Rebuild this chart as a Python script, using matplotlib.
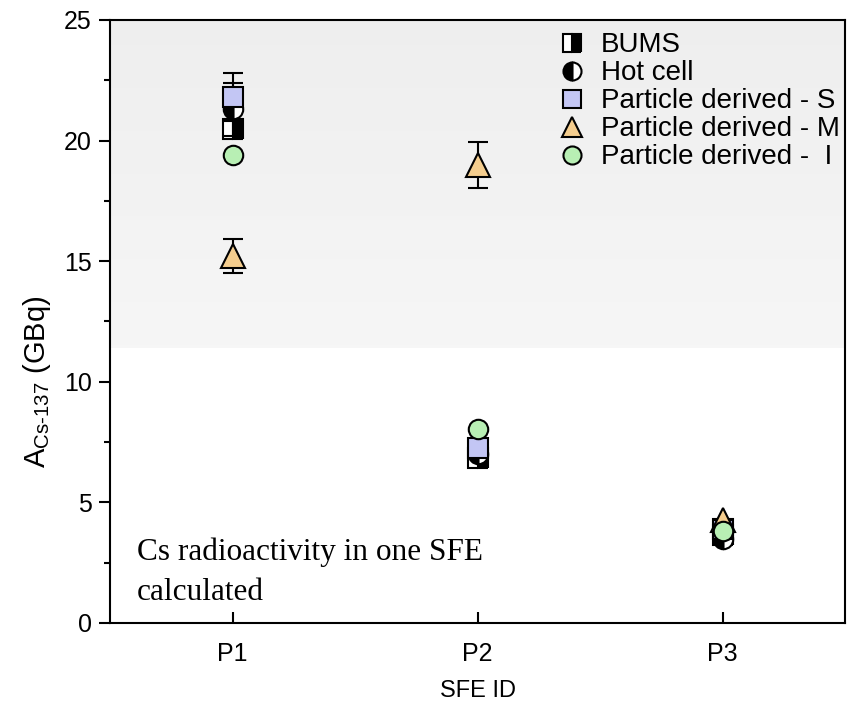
import numpy as np
import matplotlib
matplotlib.use("Agg")
import matplotlib.pyplot as plt
from matplotlib.lines import Line2D

plt.rcParams['font.family'] = ['Liberation Sans', 'DejaVu Sans']
plt.rcParams['mathtext.default'] = 'regular'

sfe_ids = ["P1", "P2", "P3"]
bums = [20.5, 6.85, 3.65]
hot_cell = [21.3, 7.0, 3.5]
hot_cell_err = [1.1, 0.0, 0.0]
part_s = [21.8, 7.25, 3.9]
part_s_err = [1.0, 0.0, 0.0]
part_m = [15.2, 19.0, 4.25]
part_m_err = [0.7, 0.95, 0.0]
part_i = [19.4, 8.05, 3.8]

fig = plt.figure(figsize=(8.54, 7.09), dpi=100)
ax = fig.add_axes([0.1288, 0.1213, 0.8607, 0.8505])

x = np.arange(1, len(sfe_ids) + 1)

# background gradient (light gray at top fading to white)
grad = np.linspace(0.965, 0.935, 100).reshape(-1, 1)
ax.imshow(np.dstack([grad, grad, grad]), extent=[0.5, 3.5, 11.4, 25],
          origin='lower', aspect='auto', zorder=0)

ms = 14
ekw = dict(ecolor='black', elinewidth=1.5, capsize=7, capthick=1.5, linestyle='none')

ax.errorbar(x, bums, marker='s', ms=ms, mfc='black', mfcalt='white',
            fillstyle='right', mec='black', mew=1.5, zorder=3, **ekw)
ax.errorbar(x, hot_cell, yerr=hot_cell_err, marker='o', ms=ms, mfc='black',
            mfcalt='white', fillstyle='left', mec='black', mew=1.5, zorder=4, **ekw)
ax.errorbar(x, part_s, yerr=part_s_err, marker='s', ms=ms, mfc='#c3c6f4',
            mec='black', mew=1.5, zorder=5, **ekw)
ax.errorbar(x, part_m, yerr=part_m_err, marker='^', ms=ms + 3, mfc='#f4cd8e',
            mec='black', mew=1.5, zorder=6, **ekw)
ax.errorbar(x, part_i, marker='o', ms=ms, mfc='#b8efb4', mec='black', mew=1.5,
            zorder=7, **ekw)

ax.set_xlim(0.5, 3.5)
ax.set_ylim(0, 25)
ax.set_xticks(x)
ax.set_xticklabels(sfe_ids)
ax.set_yticks(np.arange(0, 26, 5))
ax.set_yticks(np.arange(2.5, 25, 5), minor=True)
ax.tick_params(axis='x', direction='in', length=8, width=1.5, labelsize=18, pad=14)
ax.tick_params(axis='y', which='major', direction='out', length=8, width=1.5,
               labelsize=18, pad=5)
ax.tick_params(axis='y', which='minor', direction='out', length=4, width=1.5)
for s in ax.spines.values():
    s.set_linewidth(1.5)

ax.set_xlabel("SFE ID", fontsize=17, labelpad=10)
ax.set_ylabel("A$_{Cs\u2010137}$ (GBq)", fontsize=21)
ax.yaxis.set_label_coords(-0.078, 0.40)

handles = [
    Line2D([], [], ls='none', marker='s', ms=13, mfc='black', mfcalt='white',
           fillstyle='right', mec='black', mew=1.5),
    Line2D([], [], ls='none', marker='o', ms=13, mfc='black', mfcalt='white',
           fillstyle='left', mec='black', mew=1.5),
    Line2D([], [], ls='none', marker='s', ms=13, mfc='#c3c6f4', mec='black', mew=1.5),
    Line2D([], [], ls='none', marker='^', ms=15, mfc='#f4cd8e', mec='black', mew=1.5),
    Line2D([], [], ls='none', marker='o', ms=13, mfc='#b8efb4', mec='black', mew=1.5),
]
labels = ["BUMS", "Hot cell", "Particle derived - S", "Particle derived - M",
          "Particle derived -  I"]
ax.legend(handles, labels, loc='upper right', frameon=False, fontsize=20,
          labelspacing=0.07, handletextpad=0.55, handlelength=1.0,
          borderaxespad=0.05, bbox_to_anchor=(1.01, 1.0))

ax.text(0.037, 0.027, "Cs radioactivity in one SFE\ncalculated",
        transform=ax.transAxes, fontsize=22.5, family='Liberation Serif',
        va='bottom', ha='left', linespacing=1.5, zorder=10)

fig.savefig("out.png", dpi=100)
